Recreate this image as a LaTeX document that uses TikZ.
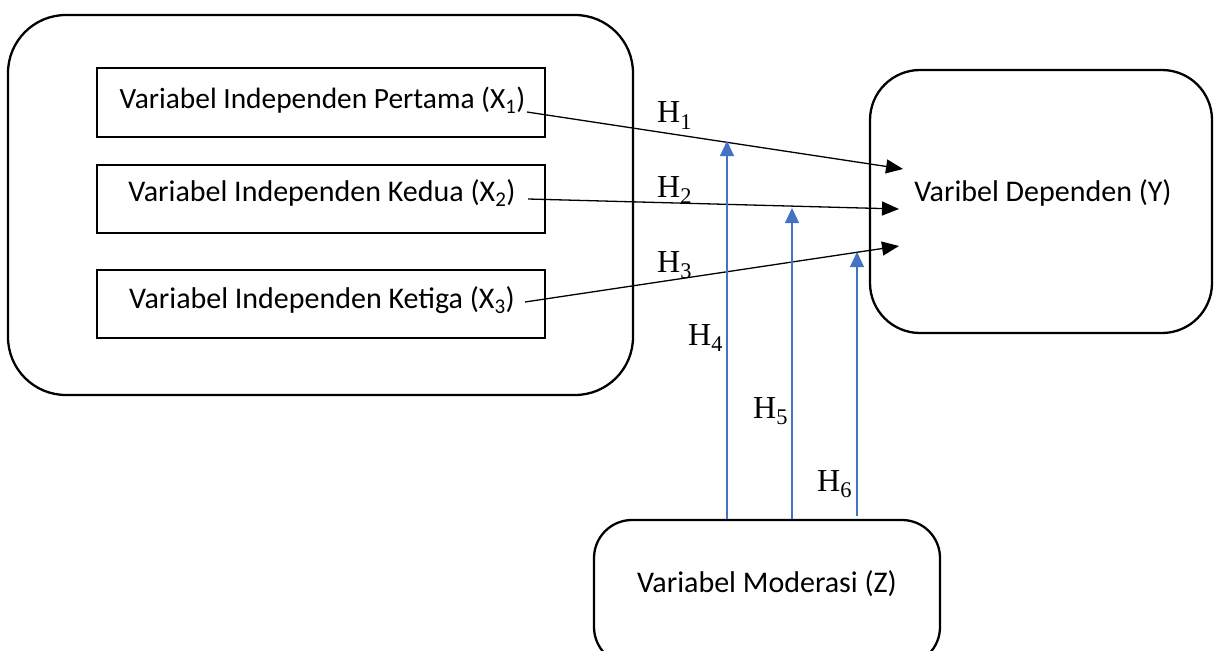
\documentclass[tikz,border=0pt]{standalone}
\usepackage{fontspec}
\setmainfont{Carlito}
\newfontfamily\hfont{Liberation Serif}
\usetikzlibrary{arrows.meta}
\definecolor{mblue}{HTML}{4472C4}
\begin{document}
\begin{tikzpicture}[x=1pt,y=-1pt,
  sqbox/.style={draw, line width=2.3pt, inner sep=0pt},
  rbox/.style={draw, line width=2.3pt, inner sep=0pt},
  lbl/.style={font=\fontsize{30}{34}\selectfont, inner sep=0pt, anchor=base},
  hyp/.style={font=\hfont\fontsize{32}{36}\selectfont, inner sep=0pt, anchor=base west},
  blk/.style={line width=1.3pt, -{Triangle[length=17pt,width=14pt]}},
  blu/.style={line width=1.1pt, draw=mblue, mblue, -{Triangle[length=15pt,width=14pt]}}]
\clip (0,0) rectangle (1214,650);
% boxes
\node[rbox, rounded corners=58pt, minimum width=625pt, minimum height=380pt] (outer) at (320.5,205) {};
\node[sqbox, minimum width=448pt, minimum height=69pt] (x1) at (321,102.5) {};
\node[sqbox, minimum width=448pt, minimum height=68pt] (x2) at (321,199) {};
\node[sqbox, minimum width=448pt, minimum height=68pt] (x3) at (321,304) {};
\node[rbox, rounded corners=50pt, minimum width=342pt, minimum height=263pt] (y) at (1041,201.5) {};
\node[rbox, rounded corners=38pt, minimum width=346pt, minimum height=145pt] (z) at (767,592.5) {};
% texts
\node[lbl, font=\fontsize{29.4}{34}\selectfont] (t1) at (322.5,109) {Variabel Independen Pertama (X\textsubscript{1})};
\node[lbl] (t2) at (322,201) {Variabel Independen Kedua (X\textsubscript{2})};
\node[lbl] (t3) at (322,308) {Variabel Independen Ketiga (X\textsubscript{3})};
\node[lbl] (ty) at (1043,201) {Varibel Dependen (Y)};
\node[lbl] (tz) at (767,592) {Variabel Moderasi (Z)};
% connector ends
\coordinate (s1) at (527,112);
\coordinate (s2) at (528,199);
\coordinate (s3) at (525,302);
\coordinate (e1) at (903,169);
\coordinate (e2) at (899,209);
\coordinate (e3) at (899,246);
\coordinate (b1) at (727,141);
\coordinate (b2) at (792,208);
\coordinate (b3) at (857,252);
% black arrows
\draw[blk] (s1) -- (e1);
\draw[blk] (s2) -- (e2);
\draw[blk] (s3) -- (e3);
% blue arrows
\draw[blu] (b1 |- z.north) -- (b1);
\draw[blu] (b2 |- z.north) -- (b2);
\draw[blu] ([yshift=3pt]b3 |- z.north) -- (b3);
% hypothesis labels
\node[hyp] (h1) at (657,123) {H\textsubscript{1}};
\node[hyp] (h2) at (657,197) {H\textsubscript{2}};
\node[hyp] (h3) at (657,272) {H\textsubscript{3}};
\node[hyp] (h4) at (688,345) {H\textsubscript{4}};
\node[hyp] (h5) at (753,418) {H\textsubscript{5}};
\node[hyp] (h6) at (817,491) {H\textsubscript{6}};
\end{tikzpicture}
\end{document}
